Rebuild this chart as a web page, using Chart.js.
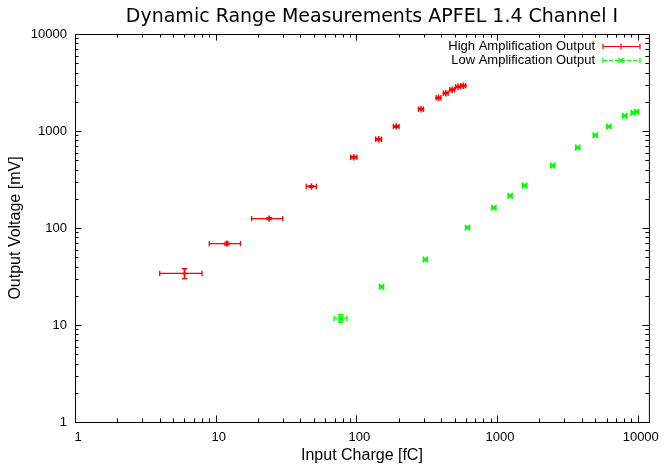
<!DOCTYPE html>
<html>
<head>
<meta charset="utf-8">
<script src="https://cdn.jsdelivr.net/npm/chart.js@4"></script>
<style>
  html, body { margin: 0; padding: 0; background: #fff; }
  canvas { display: block; }
</style>
</head>
<body>
<canvas id="chart" width="664" height="465"></canvas>
<script>
// values (charge in fC, voltage in mV)
const highCharge     = [6, 12, 24, 48, 96, 144, 192, 288, 384, 432, 480, 528, 576];
const highChargeErr  = [2, 3, 6, 4, 5, 7, 9, 12, 15, 17, 19, 21, 23];
const highVoltage    = [34, 69, 125, 268, 537, 823, 1113, 1678, 2198, 2454, 2660, 2855, 2925];
const highVoltageErr = [4, 2.5, 3, 5, 10, 15, 20, 30, 40, 45, 50, 50, 55];

const lowCharge      = [77.5, 151, 309, 617, 950, 1238, 1571, 2487, 3744, 4990, 6227, 8074, 9285, 9812];
const lowChargeErr   = [8, 4.5, 9, 18, 28, 37, 47, 75, 110, 150, 190, 240, 280, 290];
const lowVoltage     = [11.75, 24.8, 47.4, 101, 161.5, 215, 274, 441, 676, 905, 1113, 1435, 1541, 1578];
const lowVoltageErr  = [1.1, 0.6, 1, 2, 3, 4, 5, 8, 12, 16, 20, 25, 27, 28];

const decadeTicks = [1, 10, 100, 1000, 10000];
const minorSteps  = [2, 3, 4, 5, 6, 7, 8, 9];

const RED = '#ff0000';
const GREEN = '#00ff00';
const CAP = 2.7;

function toPoints(xs, ys, xe, ye){
  return xs.map((x, i) => ({ x, y: ys[i], xErr: xe[i], yErr: ye[i] }));
}

// gnuplot look: errorbars, inward ticks on all four sides, frame, key, title
const gnuplotLook = {
  id: 'gnuplotLook',
  beforeDatasetsDraw(chart){
    const { ctx, chartArea: a, scales: { x, y } } = chart;
    ctx.save();
    ctx.beginPath();
    ctx.rect(a.left, a.top, a.right - a.left, a.bottom - a.top);
    ctx.clip();
    chart.data.datasets.forEach(ds => {
      ctx.strokeStyle = ds.borderColor;
      ctx.lineWidth = 1.3;
      ds.data.forEach(p => {
        const px = x.getPixelForValue(p.x), py = y.getPixelForValue(p.y);
        const x0 = x.getPixelForValue(p.x - p.xErr), x1 = x.getPixelForValue(p.x + p.xErr);
        const y0 = y.getPixelForValue(p.y - p.yErr), y1 = y.getPixelForValue(p.y + p.yErr);
        ctx.beginPath();
        ctx.moveTo(x0, py); ctx.lineTo(x1, py);
        ctx.moveTo(x0, py - CAP); ctx.lineTo(x0, py + CAP);
        ctx.moveTo(x1, py - CAP); ctx.lineTo(x1, py + CAP);
        ctx.moveTo(px, y0); ctx.lineTo(px, y1);
        ctx.moveTo(px - CAP, y0); ctx.lineTo(px + CAP, y0);
        ctx.moveTo(px - CAP, y1); ctx.lineTo(px + CAP, y1);
        ctx.stroke();
      });
    });
    ctx.restore();
  },
  afterDraw(chart){
    const { ctx, chartArea: a, scales: { x, y } } = chart;
    ctx.save();
    ctx.strokeStyle = '#000';
    ctx.lineWidth = 1;
    ctx.beginPath();
    decadeTicks.forEach(d => {
      [1].concat(minorSteps).forEach(k => {
        const v = d * k;
        const len = k === 1 ? 6.5 : 3.5;
        if (v <= x.max) {
          const px = Math.round(x.getPixelForValue(v)) + 0.5;
          ctx.moveTo(px, a.bottom); ctx.lineTo(px, a.bottom - len);
          ctx.moveTo(px, a.top); ctx.lineTo(px, a.top + len);
        }
        if (v <= y.max) {
          const py = Math.round(y.getPixelForValue(v)) + 0.5;
          ctx.moveTo(a.left, py); ctx.lineTo(a.left + len, py);
          ctx.moveTo(a.right, py); ctx.lineTo(a.right - len, py);
        }
      });
    });
    ctx.stroke();
    ctx.strokeRect(a.left + 0.5, a.top + 0.5, a.right - a.left, a.bottom - a.top);

    // title
    ctx.fillStyle = '#000';
    ctx.font = '19px "DejaVu Sans"';
    ctx.textAlign = 'center';
    ctx.textBaseline = 'middle';
    ctx.fillText('Dynamic Range Measurements APFEL 1.4 Channel I', 372, 17);

    // key, top right inside the frame
    ctx.font = '13px "Liberation Sans"';
    ctx.textAlign = 'right';
    chart.data.datasets.forEach((ds, i) => {
      const ky = 46 + i * 14 + 0.5;
      ctx.fillStyle = '#000';
      ctx.fillText(ds.label, 595, ky);
      ctx.strokeStyle = ds.borderColor;
      ctx.lineWidth = 1.2;
      ctx.setLineDash(ds.keyDash);
      ctx.beginPath();
      ctx.moveTo(603, ky); ctx.lineTo(640, ky);
      ctx.stroke();
      ctx.setLineDash([]);
      ctx.beginPath();
      ctx.moveTo(603, ky - CAP); ctx.lineTo(603, ky + CAP);
      ctx.moveTo(640, ky - CAP); ctx.lineTo(640, ky + CAP);
      if (ds.pointStyle === 'cross') {
        ctx.moveTo(618, ky); ctx.lineTo(624, ky);
        ctx.moveTo(621, ky - 3); ctx.lineTo(621, ky + 3);
      } else {
        ctx.moveTo(618.5, ky - 2.5); ctx.lineTo(623.5, ky + 2.5);
        ctx.moveTo(618.5, ky + 2.5); ctx.lineTo(623.5, ky - 2.5);
      }
      ctx.stroke();
    });
    ctx.restore();
  }
};

const tickFont = { family: '"Liberation Sans", Arial, sans-serif', size: 13 };
const titleFont = { family: '"Liberation Sans", Arial, sans-serif', size: 16 };

new Chart(document.getElementById('chart'), {
  type: 'scatter',
  data: {
    datasets: [
      {
        label: 'High Amplification Output',
        data: toPoints(highCharge, highVoltage, highChargeErr, highVoltageErr),
        borderColor: RED, backgroundColor: RED,
        pointStyle: 'cross', pointRadius: 3.2, borderWidth: 1.5,
        keyDash: []
      },
      {
        label: 'Low Amplification Output',
        data: toPoints(lowCharge, lowVoltage, lowChargeErr, lowVoltageErr),
        borderColor: GREEN, backgroundColor: GREEN,
        pointStyle: 'crossRot', pointRadius: 3.8, borderWidth: 1.5,
        keyDash: [4, 2]
      }
    ]
  },
  options: {
    responsive: false,
    animation: false,
    layout: { padding: { top: 34, right: 9, left: 0, bottom: 0 } },
    plugins: { legend: { display: false }, title: { display: false }, tooltip: { enabled: false } },
    scales: {
      x: {
        type: 'logarithmic', position: 'bottom', min: 1, max: 12000,
        afterBuildTicks: s => { s.ticks = decadeTicks.map(v => ({ value: v })); },
        afterFit: s => { s.height = 43; },
        grid: { display: false, drawTicks: false },
        border: { display: false },
        ticks: { font: tickFont, color: '#000', padding: 8, labelOffset: 3, maxRotation: 0, autoSkip: false, callback: v => String(v) },
        title: { display: true, text: 'Input Charge [fC]', font: titleFont, color: '#000', padding: 0 }
      },
      y: {
        type: 'logarithmic', position: 'left', min: 1, max: 10000,
        afterBuildTicks: s => { s.ticks = decadeTicks.map(v => ({ value: v })); },
        afterFit: s => { s.width = 75; },
        grid: { display: false, drawTicks: false },
        border: { display: false },
        ticks: { font: tickFont, color: '#000', padding: 8, autoSkip: false, callback: v => String(v) },
        title: { display: true, text: 'Output Voltage [mV]', font: titleFont, color: '#000', padding: { top: 6 } }
      }
    }
  },
  plugins: [gnuplotLook]
});
</script>
</body>
</html>
